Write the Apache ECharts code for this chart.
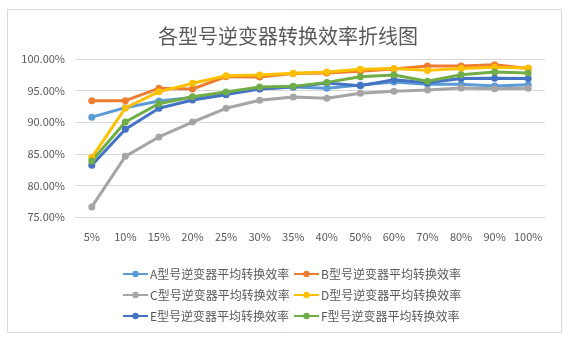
<!DOCTYPE html>
<html>
<head>
<meta charset="utf-8">
<script src="https://cdn.jsdelivr.net/npm/echarts@6/dist/echarts.min.js"></script>
<style>
  html, body { margin: 0; padding: 0; background: #ffffff; }
  #chart { width: 576px; height: 340px; }
</style>
</head>
<body>
<div id="chart"></div>
<script>
// Load ratio categories along the x axis
const loadLevels = ['5%', '10%', '15%', '20%', '25%', '30%', '35%', '40%', '50%', '60%', '70%', '80%', '90%', '100%'];

// Average conversion efficiency (%) per inverter model
const modelA = [90.8, 92.3, 93.35, 93.9, 94.6, 95.3, 95.57, 95.36, 95.9, 96.36, 96.0, 96.0, 95.73, 95.94];
const modelB = [93.4, 93.4, 95.36, 95.25, 97.2, 97.15, 97.7, 97.8, 98.05, 98.4, 98.9, 98.9, 99.1, 98.5];
const modelC = [76.6, 84.6, 87.66, 90.03, 92.2, 93.46, 93.99, 93.78, 94.57, 94.88, 95.1, 95.4, 95.3, 95.36];
const modelD = [84.4, 92.25, 94.83, 96.15, 97.36, 97.47, 97.73, 97.94, 98.36, 98.5, 98.2, 98.5, 98.7, 98.58];
const modelE = [83.2, 88.87, 92.2, 93.5, 94.36, 95.25, 95.57, 96.2, 95.78, 96.73, 96.26, 96.9, 96.94, 96.9];
const modelF = [83.86, 90.03, 92.93, 94.04, 94.78, 95.57, 95.67, 96.3, 97.2, 97.47, 96.47, 97.52, 97.94, 97.78];

const seriesNames = [
  'A型号逆变器平均转换效率', 'B型号逆变器平均转换效率', 'C型号逆变器平均转换效率',
  'D型号逆变器平均转换效率', 'E型号逆变器平均转换效率', 'F型号逆变器平均转换效率'
];
const seriesData = [modelA, modelB, modelC, modelD, modelE, modelF];
const palette = ['#5B9BD5', '#ED7D31', '#A5A5A5', '#FFC000', '#4472C4', '#70AD47'];

const textColor = '#595959';
const fontFamily = '"Noto Sans CJK SC", "Noto Sans", sans-serif';

const chart = echarts.init(document.getElementById('chart'), null, { renderer: 'canvas' });

const legendCommon = {
  orient: 'vertical',
  top: 263,
  itemWidth: 25,
  itemHeight: 8,
  itemGap: 9,
  textStyle: { color: textColor, fontSize: 12, fontFamily: fontFamily, padding: [0, 0, 0, -3] }
};

chart.setOption({
  animation: false,
  backgroundColor: '#ffffff',
  color: palette,
  graphic: [{
    type: 'rect',
    shape: { x: 7.5, y: 9.5, width: 554, height: 323 },
    style: { fill: 'none', stroke: '#D9D9D9', lineWidth: 1 },
    silent: true
  }],
  title: {
    text: '各型号逆变器转换效率折线图',
    left: 'center',
    top: 21,
    textStyle: { color: textColor, fontSize: 20, fontWeight: 'normal', fontFamily: fontFamily }
  },
  legend: [
    Object.assign({ left: 117, data: [seriesNames[0], seriesNames[2], seriesNames[4]] }, legendCommon),
    Object.assign({ left: 288, data: [seriesNames[1], seriesNames[3], seriesNames[5]] }, legendCommon)
  ],
  grid: { left: 75, right: 31, top: 59, bottom: 123, containLabel: false },
  xAxis: {
    type: 'category',
    data: loadLevels,
    boundaryGap: true,
    axisLine: { show: true, lineStyle: { color: '#D9D9D9' } },
    axisTick: { show: false },
    axisLabel: { color: textColor, fontSize: 11, fontFamily: fontFamily, margin: 14, interval: 0 }
  },
  yAxis: {
    type: 'value',
    min: 75,
    max: 100,
    interval: 5,
    axisLine: { show: false },
    axisTick: { show: false },
    splitLine: { lineStyle: { color: '#D9D9D9' } },
    axisLabel: {
      color: textColor, fontSize: 11, fontFamily: fontFamily, margin: 10,
      formatter: v => v.toFixed(2) + '%'
    }
  },
  series: seriesNames.map((name, i) => ({
    name: name,
    type: 'line',
    data: seriesData[i],
    symbol: 'circle',
    symbolSize: 7,
    showSymbol: true,
    lineStyle: { width: 3, color: palette[i] },
    itemStyle: { color: palette[i] }
  }))
});
</script>
</body>
</html>
